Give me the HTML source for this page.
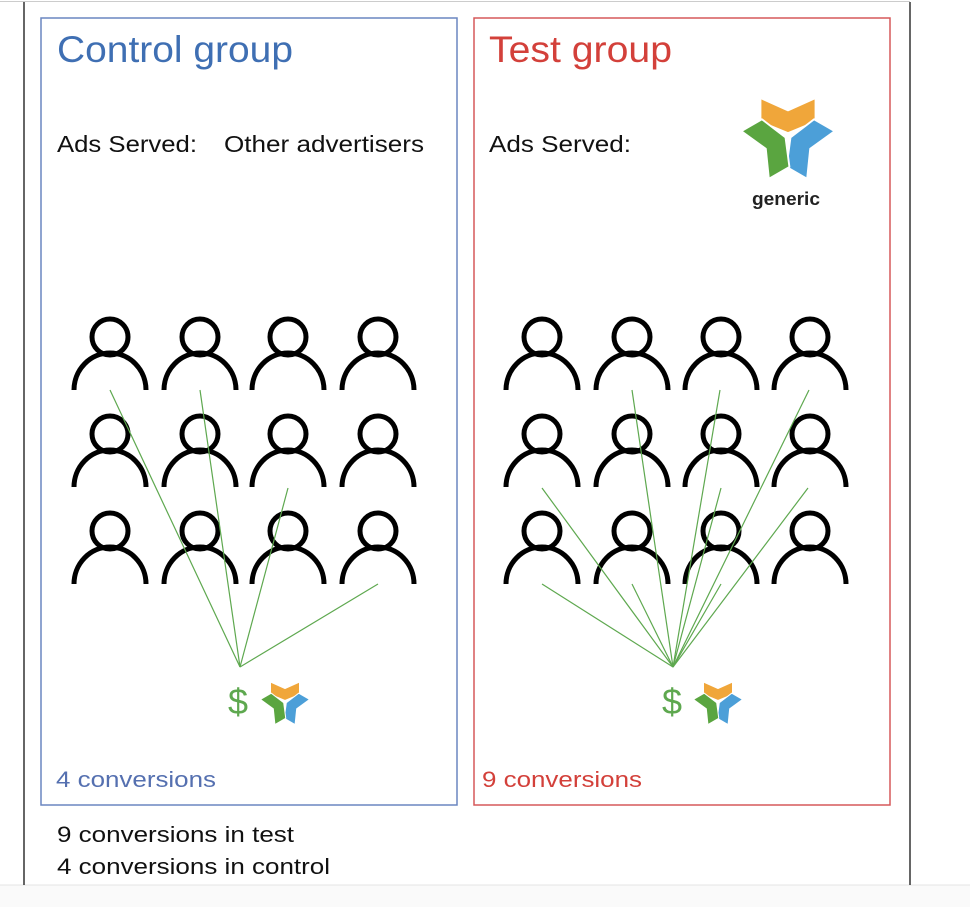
<!DOCTYPE html>
<html><head><meta charset="utf-8"><style>
html,body{margin:0;padding:0;background:#fff;}
svg{display:block;}
text{font-family:"Liberation Sans",sans-serif;}
</style></head><body>
<svg width="970" height="907" viewBox="0 0 970 907" xmlns="http://www.w3.org/2000/svg">
<defs>
<g id="p" fill="none" stroke="#000" stroke-width="5">
  <circle cx="0" cy="1" r="18"/>
  <path d="M-36,54 A36,37 0 0 1 36,54"/>
</g>
<g id="logo" stroke="#fff" stroke-width="2" stroke-linejoin="round">
  <polygon points="-29,-40 0,-27 29,-40 29,-15 0,-3 -29,-15" fill="#f0a63a"/>
  <polygon points="-29,-40 0,-27 29,-40 29,-15 0,-3 -29,-15" fill="#4c9fd8" transform="rotate(120)"/>
  <polygon points="-29,-40 0,-27 29,-40 29,-15 0,-3 -29,-15" fill="#5aa540" transform="rotate(-120)"/>
</g>
</defs>
<rect x="0" y="0" width="970" height="907" fill="#fff"/>
<rect x="0" y="885" width="970" height="22" fill="#fafafa"/>
<line x1="0" y1="885" x2="970" y2="885" stroke="#e4e4e4" stroke-width="1"/>
<line x1="0" y1="1.5" x2="910" y2="1.5" stroke="#ccc" stroke-width="1"/>
<line x1="24" y1="2" x2="24" y2="885" stroke="#333" stroke-width="1.5"/>
<line x1="910" y1="2" x2="910" y2="885" stroke="#333" stroke-width="1.5"/>

<rect x="41" y="18" width="416" height="787" fill="none" stroke="#6a86c0" stroke-width="1.5"/>
<rect x="474" y="18" width="416" height="787" fill="none" stroke="#d5585a" stroke-width="1.5"/>

<text x="57" y="62" font-size="37" fill="#3f6fb3" textLength="236" lengthAdjust="spacingAndGlyphs">Control group</text>
<text x="489" y="62" font-size="37" fill="#d3403a" textLength="183" lengthAdjust="spacingAndGlyphs">Test group</text>
<text x="57" y="152" font-size="23" fill="#111" textLength="140" lengthAdjust="spacingAndGlyphs">Ads Served:</text>
<text x="224" y="152" font-size="23" fill="#111" textLength="200" lengthAdjust="spacingAndGlyphs">Other advertisers</text>
<text x="489" y="152" font-size="23" fill="#111" textLength="142" lengthAdjust="spacingAndGlyphs">Ads Served:</text>

<use href="#logo" transform="translate(788,136) scale(0.95)"/>
<text x="752" y="205" font-size="18" font-weight="bold" fill="#222" textLength="68" lengthAdjust="spacingAndGlyphs">generic</text>

<use href="#p" x="110" y="336"/><use href="#p" x="200" y="336"/><use href="#p" x="288" y="336"/><use href="#p" x="378" y="336"/>
<use href="#p" x="110" y="433"/><use href="#p" x="200" y="433"/><use href="#p" x="288" y="433"/><use href="#p" x="378" y="433"/>
<use href="#p" x="110" y="530"/><use href="#p" x="200" y="530"/><use href="#p" x="288" y="530"/><use href="#p" x="378" y="530"/>
<use href="#p" x="542" y="336"/><use href="#p" x="632" y="336"/><use href="#p" x="721" y="336"/><use href="#p" x="810" y="336"/>
<use href="#p" x="542" y="433"/><use href="#p" x="632" y="433"/><use href="#p" x="721" y="433"/><use href="#p" x="810" y="433"/>
<use href="#p" x="542" y="530"/><use href="#p" x="632" y="530"/><use href="#p" x="721" y="530"/><use href="#p" x="810" y="530"/>

<g stroke="#5ea84f" stroke-width="1.2" fill="none">
  <line x1="240" y1="667" x2="110" y2="390"/>
  <line x1="240" y1="667" x2="200" y2="390"/>
  <line x1="240" y1="667" x2="288" y2="488"/>
  <line x1="240" y1="667" x2="378" y2="584"/>
  <line x1="673" y1="667" x2="632" y2="390"/>
  <line x1="673" y1="667" x2="720" y2="390"/>
  <line x1="673" y1="667" x2="809" y2="390"/>
  <line x1="673" y1="667" x2="542" y2="488"/>
  <line x1="673" y1="667" x2="721" y2="488"/>
  <line x1="673" y1="667" x2="808" y2="488"/>
  <line x1="673" y1="667" x2="542" y2="584"/>
  <line x1="673" y1="667" x2="632" y2="584"/>
  <line x1="673" y1="667" x2="721" y2="584"/>
</g>

<text x="228" y="714" font-size="36" fill="#5ea84f">$</text>
<use href="#logo" transform="translate(285,702) scale(0.5)"/>
<text x="662" y="714" font-size="36" fill="#5ea84f">$</text>
<use href="#logo" transform="translate(718,702) scale(0.5)"/>

<text x="56" y="787" font-size="22" fill="#5570b0" textLength="160" lengthAdjust="spacingAndGlyphs">4 conversions</text>
<text x="482" y="787" font-size="22" fill="#d3403a" textLength="160" lengthAdjust="spacingAndGlyphs">9 conversions</text>
<text x="57" y="842" font-size="22" fill="#111" textLength="237" lengthAdjust="spacingAndGlyphs">9 conversions in test</text>
<text x="57" y="874" font-size="22" fill="#111" textLength="273" lengthAdjust="spacingAndGlyphs">4 conversions in control</text>
</svg>
</body></html>
